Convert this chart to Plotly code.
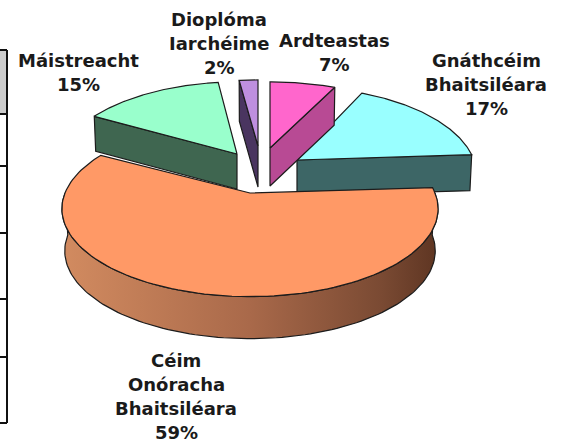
import numpy as np
import plotly.graph_objects as go

categories = ["Ardteastas", "Gnáthcéim Bhaitsiléara", "Céim Onóracha Bhaitsiléara", "Máistreacht", "Dioplóma Iarchéime"]
values = [7, 17, 59, 15, 2]
label_lines = [["Ardteastas", "7%"], ["Gnáthcéim", "Bhaitsiléara", "17%"],
               ["Céim", "Onóracha", "Bhaitsiléara", "59%"], ["Máistreacht", "15%"],
               ["Dioplóma", "Iarchéime", "2%"]]
label_x = [334, 486, 176, 78, 219]
label_top = [40, 60, 360, 60, 19]
label_step = [24, 24, 24, 24, 24]
top_colors = ["#FF66CC", "#99FFFF", "#FF9966", "#99FFCC", "#BE8FDF"]
wall_colors = ["#B84A94", "#3D6666", None, "#3F6650", "#4A3560"]
apex_x = [270, 297, 250, 237, 258]
apex_y = [148, 160, 193, 154, 146]
radius_x = [177, 177, 185, 177, 177]
radius_y = [78, 86, 85, 85, 78]
depth = [38, 36, 42, 35, 41]
wall_side = ["end", "end", None, "start", "start"]
draw_order = [1, 2, 3, 4, 0]
table_rows_y = [50, 114, 166, 233, 299, 357, 423]
PERSPECTIVE = 0.18
LINE = "#1c1c1c"

cum = np.cumsum([0] + values) / sum(values) * 2 * np.pi
fig = go.Figure()


def project(i, t, rx=None, shift=0):
    rx = radius_x[i] if rx is None else rx
    x, y = np.sin(t), -np.cos(t)
    s = 1 / (1 - PERSPECTIVE * y)
    return apex_x[i] + rx * x * s, apex_y[i] + radius_y[i] * y * s + shift


def poly(xs, ys, fill, gradient=None):
    kw = dict(fillcolor=fill) if gradient is None else dict(fillgradient=gradient)
    fig.add_trace(go.Scatter(x=list(xs), y=list(ys), mode="lines", fill="toself",
                             line=dict(color=LINE, width=1.2), hoverinfo="skip",
                             showlegend=False, **kw))


for i in draw_order:
    a0, a1 = cum[i], cum[i + 1]
    if wall_side[i]:
        t = a1 if wall_side[i] == "end" else a0
        ex, ey = project(i, t)
        ex2, ey2 = project(i, t, rx=radius_x[i] * 0.99, shift=depth[i])
        poly([apex_x[i], ex, ex2, apex_x[i], apex_x[i]],
             [apex_y[i], ey, ey2, apex_y[i] + depth[i], apex_y[i]], wall_colors[i])
    else:
        ts = np.linspace(max(a0, np.pi / 2), min(a1, 3 * np.pi / 2), 120)
        tx, ty = project(i, ts)
        bx, by = project(i, ts, rx=radius_x[i] * 0.985, shift=depth[i])
        poly(np.r_[tx, bx[::-1], tx[0]], np.r_[ty, by[::-1], ty[0]], None,
             gradient=dict(type="horizontal",
                           colorscale=[[0, "#D28B60"], [0.5, "#A9694A"], [0.85, "#7A4A33"], [1, "#5E3522"]]))
    ts = np.linspace(a0, a1, 120)
    ax, ay = project(i, ts)
    poly(np.r_[apex_x[i], ax, apex_x[i]], np.r_[apex_y[i], ay, apex_y[i]], top_colors[i])

annotations = []
for i, lines in enumerate(label_lines):
    for j, line in enumerate(lines):
        annotations.append(dict(x=label_x[i], y=label_top[i] + j * label_step[i], text=line,
                                showarrow=False, xanchor="center", yanchor="middle",
                                font=dict(family="DejaVu Sans", size=18, color="#1a1a1a", weight=700)))

shapes = [dict(type="rect", x0=0, x1=7, y0=table_rows_y[0], y1=table_rows_y[1],
               fillcolor="#CCCCCC", line_width=0, layer="below"),
          dict(type="line", x0=7, x1=7, y0=table_rows_y[0], y1=table_rows_y[-1],
               line=dict(color="#111111", width=2))]
for y in table_rows_y:
    shapes.append(dict(type="line", x0=0, x1=7, y0=y, y1=y, line=dict(color="#111111", width=2)))

fig.update_layout(width=564, height=442, margin=dict(l=0, r=0, t=0, b=0),
                  paper_bgcolor="white", plot_bgcolor="white", showlegend=False,
                  xaxis=dict(range=[0, 564], visible=False, fixedrange=True),
                  yaxis=dict(range=[442, 0], visible=False, fixedrange=True),
                  annotations=annotations, shapes=shapes)
fig.write_html("out.html", config=dict(displayModeBar=False),
               post_script="document.body.style.margin='0';document.body.style.overflow='hidden';")
